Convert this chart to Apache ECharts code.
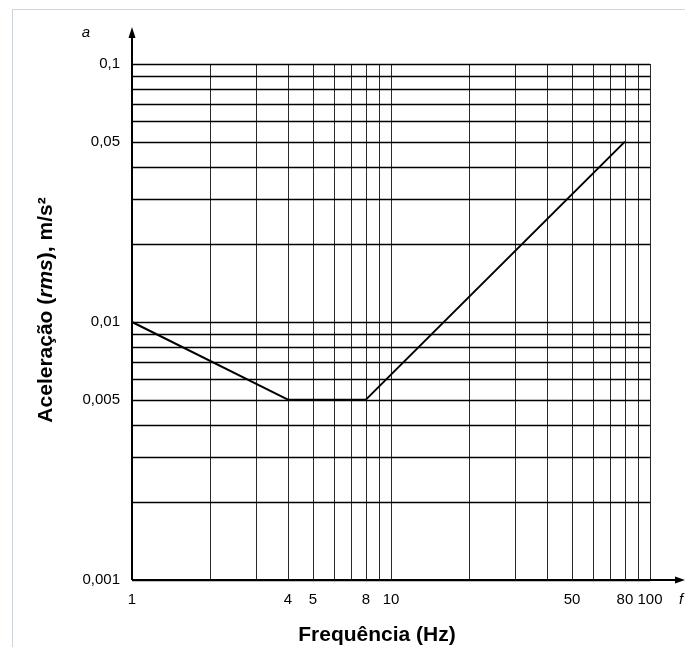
<!DOCTYPE html>
<html>
<head>
<meta charset="utf-8">
<script src="https://cdn.jsdelivr.net/npm/echarts@6/dist/echarts.min.js"></script>
<style>
  html, body { margin: 0; padding: 0; background: #fff; }
  #chart { width: 685px; height: 647px; }
</style>
</head>
<body>
<div id="chart"></div>
<script>
// limit curve
const freqs = [1, 4, 8, 80];
const accel = [0.01, 0.005, 0.005, 0.05];

// log grid
const xGrid = [1, 2, 3, 4, 5, 6, 7, 8, 9, 10, 20, 30, 40, 50, 60, 70, 80, 90, 100];
const yGrid = [0.001, 0.002, 0.003, 0.004, 0.005, 0.006, 0.007, 0.008, 0.009,
               0.01, 0.02, 0.03, 0.04, 0.05, 0.06, 0.07, 0.08, 0.09, 0.1];

// labelled ticks
const xLabels = [1, 4, 5, 8, 10, 50, 80, 100];
const yLabels = [0.001, 0.005, 0.01, 0.05, 0.1];

const font = '"Liberation Sans", Arial, sans-serif';
const chart = echarts.init(document.getElementById('chart'));

// grid line drawn across the whole plot rect
function gridLine(vertical, color, width) {
    return function (params, api) {
        const cs = params.coordSys;
        const v = api.value(0);
        if (vertical) {
            const x = Math.round(api.coord([v, yGrid[0]])[0]) + 0.5;
            return { type: 'line', shape: { x1: x, y1: cs.y, x2: x, y2: cs.y + cs.height },
                     style: { stroke: color, lineWidth: width } };
        }
        const y = Math.round(api.coord([xGrid[0], v])[1]) + 0.5;
        return { type: 'line', shape: { x1: cs.x, y1: y, x2: cs.x + cs.width, y2: y },
                 style: { stroke: color, lineWidth: width } };
    };
}

chart.setOption({
    animation: false,
    grid: { left: 132, right: 35, top: 64, bottom: 67 },
    xAxis: {
        type: 'log',
        logBase: 10,
        min: 1,
        max: 100,
        axisLine: { show: false },
        axisTick: { show: false },
        splitLine: { show: false },
        axisLabel: {
            customValues: xLabels,
            color: '#000',
            fontSize: 15,
            fontFamily: font,
            margin: 12,
            formatter: v => String(v)
        }
    },
    yAxis: {
        type: 'log',
        logBase: 10,
        min: 0.001,
        max: 0.1,
        axisLine: { show: false },
        axisTick: { show: false },
        splitLine: { show: false },
        axisLabel: {
            customValues: yLabels,
            color: '#000',
            fontSize: 15,
            fontFamily: font,
            margin: 12,
            formatter: v => String(+v.toPrecision(3)).replace('.', ',')
        }
    },
    series: [{
        type: 'custom',
        silent: true,
        encode: { x: 0 },
        data: xGrid.map(v => [v]),
        renderItem: gridLine(true, '#2a2a2a', 1),
        z: 1
    }, {
        type: 'custom',
        silent: true,
        encode: { y: 0 },
        data: yGrid.map(v => [v]),
        renderItem: gridLine(false, '#000', 1.3),
        z: 1
    }, {
        type: 'line',
        data: freqs.map((f, i) => [f, accel[i]]),
        symbol: 'none',
        lineStyle: { color: '#000', width: 2 },
        z: 5
    }]
});

// axes with arrows reaching past the grid, plus titles and frame
const o = chart.convertToPixel({ gridIndex: 0 }, [1, 0.001]);
chart.setOption({
    graphic: [
        { type: 'rect', shape: { x: 12.5, y: 9.5, width: 700, height: 700 },
          style: { fill: 'none', stroke: '#c9d5e2', lineWidth: 1 }, z: 0 },
        { type: 'line', shape: { x1: o[0], y1: o[1], x2: 678, y2: o[1] },
          style: { stroke: '#000', lineWidth: 2 }, z: 10 },
        { type: 'polygon', shape: { points: [[685, o[1]], [675, o[1] - 3.5], [675, o[1] + 3.5]] },
          style: { fill: '#000' }, z: 10 },
        { type: 'line', shape: { x1: o[0], y1: o[1], x2: o[0], y2: 36 },
          style: { stroke: '#000', lineWidth: 2 }, z: 10 },
        { type: 'polygon', shape: { points: [[o[0], 27], [o[0] - 3.5, 38], [o[0] + 3.5, 38]] },
          style: { fill: '#000' }, z: 10 },
        { type: 'text', x: 86, y: 33,
          style: { text: 'a', font: 'italic 15px ' + font, fill: '#000', align: 'center', verticalAlign: 'middle' } },
        { type: 'text', x: 681, y: 600,
          style: { text: 'f', font: 'italic 15px ' + font, fill: '#000', align: 'center', verticalAlign: 'middle' } },
        { type: 'text', x: 377, y: 635,
          style: { text: 'Frequência (Hz)', font: 'bold 21px ' + font, fill: '#000', align: 'center', verticalAlign: 'middle' } },
        { type: 'text', x: 46, y: 310, rotation: Math.PI / 2,
          style: {
              text: '{b|Aceleração (}{i|rms}{b|), m/s²}',
              align: 'center', verticalAlign: 'middle',
              rich: {
                  b: { font: 'bold 21px ' + font, fill: '#000' },
                  i: { font: 'italic bold 21px ' + font, fill: '#000' }
              }
          } }
    ]
});
</script>
</body>
</html>
